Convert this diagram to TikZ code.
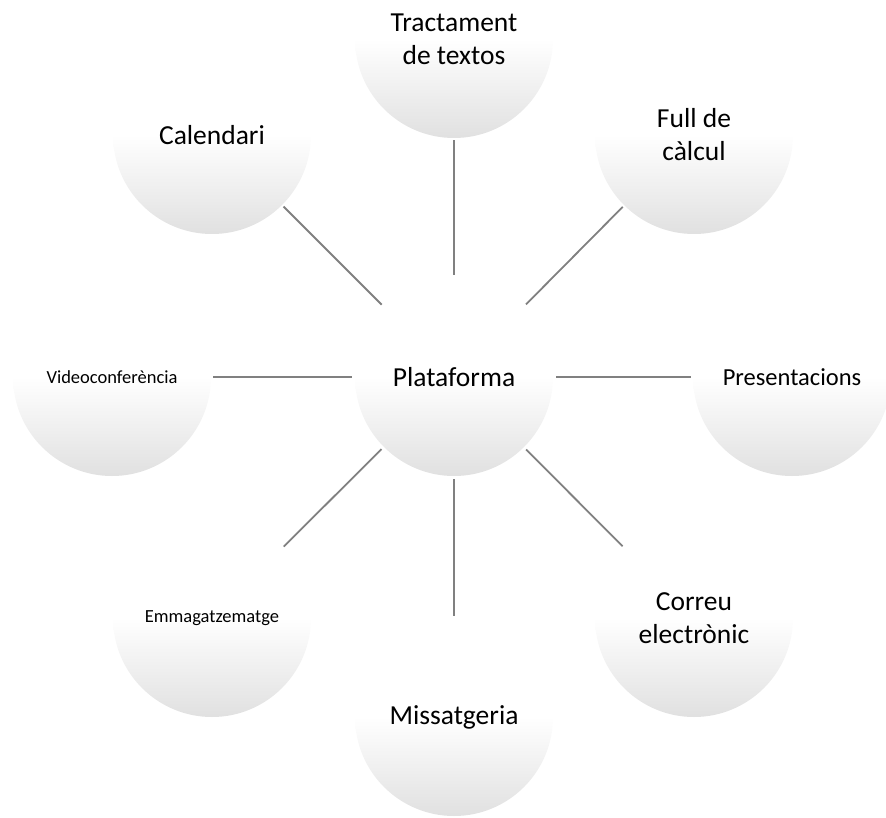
\documentclass[tikz,border=0pt]{standalone}
\usepackage{fontspec}
\setmainfont{Carlito}
\begin{document}
\begin{tikzpicture}[x=1pt,y=-1pt,
  bub/.style={circle, minimum size=198pt, inner sep=0pt, top color=white, bottom color=black!12, middle color=white, align=center, font=\fontsize{27.5}{33}\selectfont},
  midtext/.style={font=\fontsize{24.5}{30}\selectfont},
  smalltext/.style={font=\fontsize{18.5}{22}\selectfont},
  link/.style={draw=black!50, line width=1.8pt, shorten <=3pt, shorten >=2pt}]
\useasboundingbox (0,0) rectangle (886,817);
\clip (0,0) rectangle (886,817);
\node[bub] (P) at (454,377) {Plataforma};
\node[bub] (T) at (454,39) {Tractament\\de textos};
\node[bub] (Ca) at (212,135) {Calendari};
\node[bub] (F) at (694,135) {Full de\\càlcul};
\node[bub,smalltext] (V) at (112,377) {Videoconferència};
\node[bub,midtext] (Pr) at (792,377) {Presentacions};
\node[bub,smalltext] (E) at (212,618) {Emmagatzematge};
\node[bub] (Co) at (694,618) {Correu\\electrònic};
\node[bub] (M) at (454,717) {Missatgeria};
\foreach \n in {T,Ca,F,V,Pr,E,Co,M}{
  \draw[link] (P) -- (\n);
}
\end{tikzpicture}
\end{document}
